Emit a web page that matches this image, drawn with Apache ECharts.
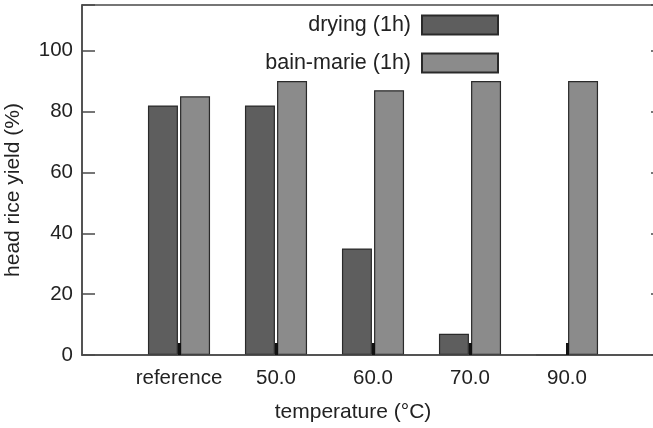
<!DOCTYPE html>
<html>
<head>
<meta charset="utf-8">
<script src="https://cdn.jsdelivr.net/npm/echarts@6/dist/echarts.min.js"></script>
<style>html,body{margin:0;padding:0;background:#fff;}#c{width:653px;height:428px;}</style>
</head>
<body>
<div id="c"></div>
<script>
const categories = ['', 'reference', '50.0', '60.0', '70.0', '90.0', ''];
const dryingValues = [null, 82, 82, 35, 7, 0, null];
const bainMarieValues = [null, 85, 90, 87, 90, 90, null];
const yTicks = [0, 20, 40, 60, 80, 100];
const seriesNames = ['drying (1h)', 'bain-marie (1h)'];

const chart = echarts.init(document.getElementById('c'));
const FONT = '"Liberation Sans", Arial, sans-serif';
chart.setOption({
  animation: false,
  backgroundColor: '#fff',
  grid: { left: 82, right: -11, top: 5, bottom: 73, show: true, borderColor: '#4a4a4a', borderWidth: 1.5,
    containLabel: false, outerBoundsMode: 'none' },
  legend: {
    orient: 'vertical', right: 149, top: 9, align: 'right', itemGap: 16,
    itemWidth: 76, itemHeight: 19, icon: 'rect',
    textStyle: { fontFamily: FONT, fontSize: 21.5, color: '#222', padding: [0, 6, 0, 0] },
    data: seriesNames
  },
  xAxis: {
    type: 'category', data: categories, boundaryGap: false, z: 5,
    name: 'temperature (°C)', nameLocation: 'middle', nameGap: 47,
    nameTextStyle: { fontFamily: FONT, fontSize: 21, color: '#222', padding: [0, 40, 0, 0] },
    axisLine: { show: true, lineStyle: { color: '#4a4a4a', width: 1.5 } },
    axisTick: { show: true, inside: true, length: 12, lineStyle: { color: '#111', width: 3 },
      interval: (i, v) => v !== '' },
    axisLabel: { fontFamily: FONT, fontSize: 20.5, color: '#222', margin: 13, interval: 0 },
    splitLine: { show: false }
  },
  yAxis: [{
    type: 'value', min: 0, max: 115, interval: 20, position: 'left',
    name: 'head rice yield (%)', nameLocation: 'middle', nameGap: 58,
    nameTextStyle: { fontFamily: FONT, fontSize: 21, color: '#222', padding: [0, 20, 0, 0] },
    axisLine: { show: true, lineStyle: { color: '#4a4a4a', width: 1.5 } },
    axisTick: { show: true, inside: true, length: 13, lineStyle: { color: '#4a4a4a', width: 1.5 } },
    axisLabel: { fontFamily: FONT, fontSize: 20.5, color: '#222', margin: 9,
      formatter: v => yTicks.indexOf(v) >= 0 ? String(v) : '' },
    splitLine: { show: false }
  }, {
    type: 'value', min: 0, max: 115, interval: 20, position: 'right',
    axisLine: { show: true, lineStyle: { color: '#4a4a4a', width: 1.5 } },
    axisTick: { show: true, inside: true, length: 13, lineStyle: { color: '#4a4a4a', width: 1.5 } },
    axisLabel: { show: false },
    splitLine: { show: false }
  }],
  series: [{
    name: seriesNames[0], type: 'bar', data: dryingValues, barWidth: 30, barGap: '7%',
    itemStyle: { color: '#5e5e5e', borderColor: '#2a2a2a', borderWidth: 1.2 }
  }, {
    name: seriesNames[1], type: 'bar', data: bainMarieValues, barWidth: 30, barGap: '7%',
    itemStyle: { color: '#8b8b8b', borderColor: '#2a2a2a', borderWidth: 1.2 }
  }]
});
</script>
</body>
</html>
